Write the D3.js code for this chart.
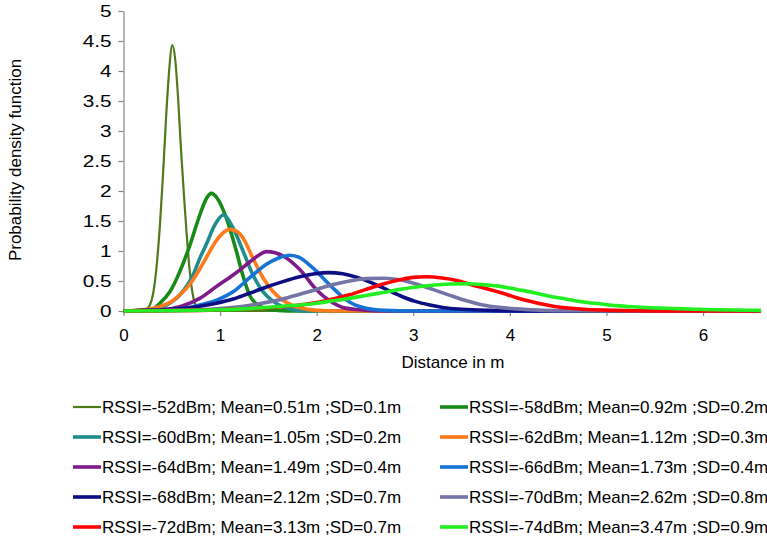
<!DOCTYPE html>
<html>
<head>
<meta charset="utf-8">
<script src="https://cdn.jsdelivr.net/npm/d3@7"></script>
<style>
  html, body { margin: 0; padding: 0; background: #fff; }
  svg { display: block; font-family: "Liberation Sans", Arial, sans-serif; }
</style>
</head>
<body>
<svg id="chart" width="767" height="538"></svg>
<script>
// Distance (m) vs probability density, one curve per RSSI level
const seriesNames = [
  "RSSI=-52dBm; Mean=0.51m ;SD=0.1m",
  "RSSI=-58dBm; Mean=0.92m ;SD=0.2m",
  "RSSI=-60dBm; Mean=1.05m ;SD=0.2m",
  "RSSI=-62dBm; Mean=1.12m ;SD=0.3m",
  "RSSI=-64dBm; Mean=1.49m ;SD=0.4m",
  "RSSI=-66dBm; Mean=1.73m ;SD=0.4m",
  "RSSI=-68dBm; Mean=2.12m ;SD=0.7m",
  "RSSI=-70dBm; Mean=2.62m ;SD=0.8m",
  "RSSI=-72dBm; Mean=3.13m ;SD=0.7m",
  "RSSI=-74dBm; Mean=3.47m ;SD=0.9m"
];
const seriesColors = ["#4e7a1a", "#178a17", "#1f8d8d", "#ff7a1a", "#80198a",
                      "#1673d6", "#0d0d84", "#7474a6", "#ff0000", "#22ee22"];

// [distance, density] pairs per series
const rssi52 = [[0,0],[0.15,0],[0.2,0.01],[0.25,0.05],[0.274,0.1],[0.308,0.3],[0.34,0.7],[0.377,1.43],[0.41,2.3],[0.44,3.2],[0.47,3.95],[0.505,4.43],[0.535,4.2],[0.565,3.55],[0.595,2.7],[0.625,1.95],[0.653,1.3],[0.69,0.6],[0.72,0.25],[0.75,0.09],[0.8,0.02],[0.9,0],[6.6,0]];
const rssi58 = [[0,0],[0.2,0.01],[0.3,0.03],[0.377,0.13],[0.48,0.32],[0.584,0.66],[0.688,1.1],[0.79,1.6],[0.86,1.88],[0.91,1.96],[0.97,1.88],[1.067,1.54],[1.17,0.99],[1.24,0.57],[1.31,0.25],[1.39,0.1],[1.47,0.04],[1.6,0.01],[1.8,0],[6.6,0]];
const rssi60 = [[0,0],[0.3,0.02],[0.447,0.1],[0.584,0.27],[0.72,0.6],[0.79,0.88],[0.86,1.12],[0.94,1.42],[1.035,1.6],[1.135,1.38],[1.24,0.99],[1.34,0.6],[1.446,0.32],[1.55,0.16],[1.65,0.07],[1.76,0.02],[1.9,0],[6.6,0]];
const rssi62 = [[0,0],[0.2,0.02],[0.343,0.06],[0.515,0.18],[0.688,0.45],[0.79,0.7],[0.86,0.9],[0.96,1.17],[1.03,1.3],[1.1,1.36],[1.17,1.33],[1.24,1.21],[1.34,0.88],[1.446,0.55],[1.55,0.32],[1.65,0.18],[1.756,0.09],[1.86,0.04],[2.0,0.01],[2.2,0],[6.6,0]];
const rssi64 = [[0,0],[0.4,0.02],[0.6,0.08],[0.79,0.21],[0.964,0.41],[1.135,0.6],[1.31,0.82],[1.4,0.93],[1.48,0.99],[1.57,0.97],[1.67,0.9],[1.825,0.69],[2.0,0.35],[2.135,0.17],[2.27,0.06],[2.45,0.02],[2.7,0],[6.6,0]];
const rssi66 = [[0,0],[0.5,0.02],[0.79,0.1],[0.964,0.18],[1.135,0.32],[1.31,0.56],[1.48,0.78],[1.6,0.88],[1.72,0.93],[1.825,0.89],[1.93,0.76],[2.0,0.66],[2.07,0.54],[2.17,0.38],[2.25,0.26],[2.34,0.15],[2.5,0.05],[2.7,0.01],[3.0,0],[6.6,0]];
const rssi68 = [[0,0],[0.2,0.01],[0.4,0.02],[0.6,0.04],[0.79,0.08],[0.96,0.13],[1.135,0.2],[1.31,0.3],[1.48,0.4],[1.65,0.49],[1.825,0.57],[1.98,0.62],[2.12,0.64],[2.27,0.62],[2.42,0.56],[2.57,0.47],[2.72,0.36],[2.87,0.25],[3.02,0.16],[3.17,0.1],[3.32,0.055],[3.5,0.03],[3.8,0.01],[4.2,0],[6.6,0]];
const rssi70 = [[0,0],[0.5,0.01],[0.9,0.03],[1.2,0.07],[1.4,0.12],[1.65,0.2],[1.825,0.28],[2.0,0.36],[2.17,0.44],[2.34,0.5],[2.51,0.54],[2.69,0.545],[2.86,0.52],[3.03,0.45],[3.2,0.36],[3.38,0.26],[3.55,0.17],[3.72,0.1],[3.89,0.06],[4.07,0.035],[4.3,0.015],[4.6,0.005],[5.0,0],[6.6,0]];
const rssi72 = [[0,0],[0.8,0.01],[1.3,0.04],[1.65,0.07],[1.825,0.1],[2.0,0.14],[2.17,0.2],[2.34,0.27],[2.51,0.36],[2.69,0.45],[2.86,0.52],[3.0,0.56],[3.14,0.57],[3.3,0.55],[3.45,0.51],[3.62,0.43],[3.76,0.37],[3.9,0.31],[4.07,0.22],[4.24,0.15],[4.45,0.08],[4.6,0.05],[4.76,0.03],[5.0,0.015],[5.3,0.005],[5.6,0],[6.6,0]];
const rssi74 = [[0,0],[0.5,0.005],[1.0,0.02],[1.3,0.04],[1.65,0.08],[1.825,0.1],[2.0,0.13],[2.17,0.17],[2.34,0.21],[2.51,0.26],[2.69,0.31],[2.86,0.36],[3.03,0.4],[3.2,0.43],[3.38,0.45],[3.55,0.455],[3.72,0.44],[3.9,0.41],[4.07,0.36],[4.24,0.31],[4.4,0.25],[4.58,0.2],[4.76,0.15],[4.93,0.12],[5.1,0.09],[5.27,0.07],[5.45,0.055],[5.62,0.045],[5.8,0.035],[5.96,0.028],[6.13,0.022],[6.3,0.017],[6.45,0.013],[6.6,0.01]];
const seriesValues = [rssi52, rssi58, rssi60, rssi62, rssi64, rssi66, rssi68, rssi70, rssi72, rssi74];

const xTickValues = [0, 1, 2, 3, 4, 5, 6];
const yTickValues = [0, 0.5, 1, 1.5, 2, 2.5, 3, 3.5, 4, 4.5, 5];
const xTitle = "Distance in m";
const yTitle = "Probability density function";

const svg = d3.select("#chart");
const axisColor = "#868686";
const fontSize = 17;

const x = d3.scaleLinear().domain([0, 6.6]).range([123.5, 761]);
const y = d3.scaleLinear().domain([0, 5]).range([311, 11]);

// widen a text element horizontally by a factor, keeping its glyphs
function stretch(sel, factor) {
  sel.each(function () {
    const w = this.getComputedTextLength();
    d3.select(this).attr("textLength", w * factor).attr("lengthAdjust", "spacingAndGlyphs");
  });
}

// axes
const xAxis = svg.append("g")
  .attr("transform", `translate(0,${y(0)})`)
  .call(d3.axisBottom(x).tickValues(xTickValues).tickFormat(d3.format("d"))
        .tickSizeInner(5).tickSizeOuter(0).tickPadding(13));
const yAxis = svg.append("g")
  .attr("transform", `translate(${x(0)},0)`)
  .call(d3.axisLeft(y).tickValues(yTickValues).tickFormat(d => String(d))
        .tickSizeInner(5).tickSizeOuter(0).tickPadding(7));
[xAxis, yAxis].forEach(g => {
  g.select(".domain").attr("stroke", axisColor).attr("stroke-width", 1.2);
  g.selectAll(".tick line").attr("stroke", axisColor).attr("stroke-width", 1.2);
  g.selectAll(".tick text").attr("fill", "#000").style("font-size", fontSize + "px")
    .style("font-family", "'Liberation Sans', Arial, sans-serif");
});
stretch(yAxis.selectAll(".tick text"), 1.22);

// curves
const line = d3.line()
  .x(d => x(d[0]))
  .y(d => y(d[1]))
  .curve(d3.curveMonotoneX);

svg.append("g").selectAll("path")
  .data(seriesValues)
  .join("path")
  .attr("d", line)
  .attr("fill", "none")
  .attr("stroke", (d, i) => seriesColors[i])
  .attr("stroke-width", (d, i) => i === 0 ? 2.2 : 3.6)
  .attr("stroke-linejoin", "round");

// axis titles
svg.append("text")
  .attr("x", 453).attr("y", 368)
  .attr("text-anchor", "middle")
  .style("font-size", fontSize + "px")
  .text(xTitle);
svg.append("text")
  .attr("transform", "translate(21,160) rotate(-90)")
  .attr("text-anchor", "middle")
  .style("font-size", fontSize + "px")
  .text(yTitle);

// legend: two columns, row-major
const legend = svg.append("g");
const rows = legend.selectAll("g")
  .data(seriesNames)
  .join("g")
  .attr("transform", (d, i) => {
    const col = i % 2, row = Math.floor(i / 2);
    return `translate(${col === 0 ? 73 : 440},${407 + row * 30})`;
  });
rows.append("line")
  .attr("x1", 0).attr("x2", 28).attr("y1", 0).attr("y2", 0)
  .attr("stroke", (d, i) => seriesColors[i])
  .attr("stroke-width", (d, i) => i === 0 ? 2.2 : 3.6);
rows.append("text")
  .attr("x", 29).attr("y", 6)
  .style("font-size", fontSize + "px")
  .text(d => d);
</script>
</body>
</html>
